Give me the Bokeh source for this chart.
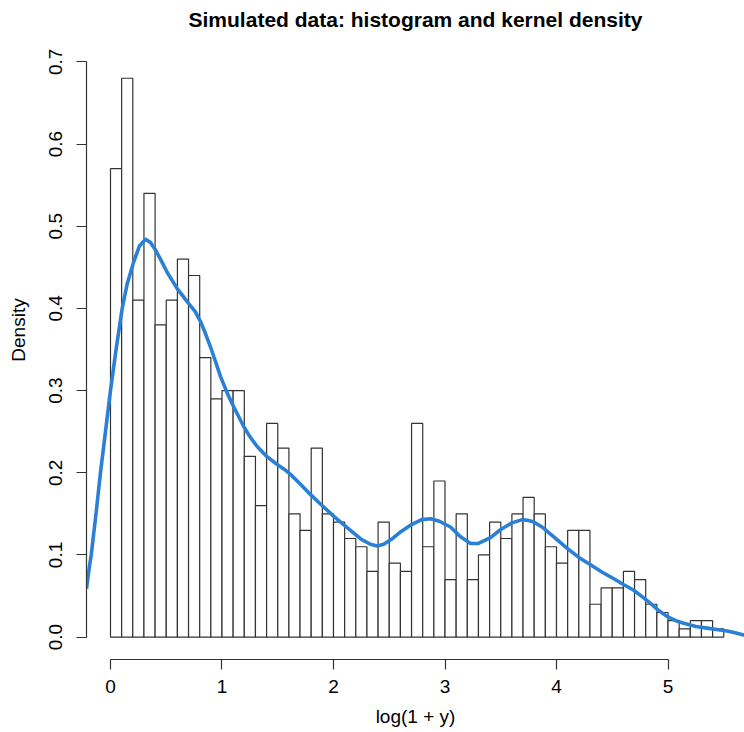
import numpy as np
from bokeh.plotting import figure
from bokeh.models import Range1d, FixedTicker, NumeralTickFormatter, ColumnDataSource, Label
from bokeh.embed import file_html
from bokeh.resources import INLINE

# ---- data ----
bin_start = 0.0
bin_width = 0.1
density = [0.57, 0.68, 0.41, 0.54, 0.38, 0.41, 0.46, 0.44, 0.34, 0.29,
           0.30, 0.30, 0.22, 0.16, 0.26, 0.23, 0.15, 0.13, 0.23, 0.15,
           0.14, 0.12, 0.11, 0.08, 0.14, 0.09, 0.08, 0.26, 0.11, 0.19,
           0.07, 0.15, 0.07, 0.10, 0.14, 0.12, 0.15, 0.17, 0.15, 0.11,
           0.09, 0.13, 0.13, 0.04, 0.06, 0.06, 0.08, 0.07, 0.04, 0.03,
           0.02, 0.01, 0.02, 0.02, 0.01]

kde_x = [-0.215, -0.19, -0.173, -0.13, -0.09, -0.045, 0.0, 0.05, 0.105, 0.15,
         0.209, 0.26, 0.314, 0.36, 0.404, 0.455, 0.508, 0.598, 0.70, 0.76,
         0.807, 0.85, 0.897, 0.94, 0.987, 1.05, 1.106, 1.196, 1.25, 1.315,
         1.40, 1.495, 1.56, 1.614, 1.704, 1.79, 1.883, 2.003, 2.08, 2.152,
         2.25, 2.33, 2.392, 2.45, 2.52, 2.601, 2.70, 2.79, 2.87, 2.95,
         3.049, 3.14, 3.229, 3.30, 3.408, 3.5, 3.60, 3.692, 3.75, 3.797,
         3.88, 3.976, 4.096, 4.2, 4.305, 4.41, 4.514, 4.60, 4.693, 4.77,
         4.843, 4.92, 4.993, 5.07, 5.142, 5.25, 5.351, 5.45, 5.531, 5.61,
         5.69]
kde_y = [0.059, 0.085, 0.10, 0.15, 0.20, 0.25, 0.30, 0.35, 0.40, 0.43,
         0.457, 0.476, 0.484, 0.480, 0.471, 0.458, 0.444, 0.424, 0.406, 0.396,
         0.384, 0.370, 0.353, 0.336, 0.317, 0.296, 0.280, 0.256, 0.244, 0.232,
         0.220, 0.210, 0.204, 0.198, 0.186, 0.174, 0.162, 0.147, 0.138, 0.130,
         0.119, 0.113, 0.111, 0.113, 0.119, 0.128, 0.137, 0.143, 0.144, 0.141,
         0.134, 0.122, 0.114, 0.114, 0.121, 0.131, 0.139, 0.143, 0.142, 0.140,
         0.133, 0.122, 0.108, 0.097, 0.088, 0.079, 0.071, 0.064, 0.057, 0.049,
         0.041, 0.032, 0.025, 0.020, 0.017, 0.013, 0.011, 0.009, 0.0075, 0.005,
         0.002]

x_ticks = [0, 1, 2, 3, 4, 5]
y_ticks = [0.0, 0.1, 0.2, 0.3, 0.4, 0.5, 0.6, 0.7]

title_text = "Simulated data: histogram and kernel density"
x_label = "log(1 + y)"
y_label = "Density"

FONT = "Liberation Sans"

n = len(density)
lefts = [bin_start + i * bin_width for i in range(n)]
rights = [bin_start + (i + 1) * bin_width for i in range(n)]
bars = ColumnDataSource(dict(left=lefts, right=rights, top=density, bottom=[0] * n))

W, H = 744, 732
BL, BR, BT, BB = 86, 0, 0, 73
frame_w = W - BL - BR
frame_h = H - BT - BB
y_lo = -0.0272
y_px_per_unit = 821.9
p = figure(width=W, height=H,
           x_range=Range1d(-0.2152, 5.686),
           y_range=Range1d(y_lo, y_lo + frame_h / y_px_per_unit),
           output_backend="svg", toolbar_location=None,
           min_border_left=BL, min_border_right=BR, min_border_top=BT, min_border_bottom=BB)
p.outline_line_color = None
p.xgrid.visible = False
p.ygrid.visible = False
p.background_fill_color = "white"
p.border_fill_color = "white"

p.quad(left="left", right="right", bottom="bottom", top="top", source=bars,
       fill_color="white", line_color="#333333", line_width=1.2)
p.line(kde_x, kde_y, line_color="#2A80D5", line_width=3.6, line_join="round")

# title, inside the (extended) frame, screen units from the frame's bottom-left
title = Label(x=frame_w / 2, y=frame_h - 19, x_units="screen", y_units="screen",
              text=title_text, text_align="center", text_baseline="alphabetic",
              text_font=FONT, text_font_size="21px", text_font_style="bold",
              text_color="black")
p.add_layout(title)

for ax in (p.xaxis[0], p.yaxis[0]):
    ax.major_tick_out = 10
    ax.major_tick_in = 0
    ax.minor_tick_line_color = None
    ax.axis_line_color = "#333333"
    ax.major_tick_line_color = "#333333"
    ax.axis_line_width = 1.2
    ax.major_tick_line_width = 1.2
    ax.major_label_text_font = FONT
    ax.major_label_text_font_size = "19px"
    ax.major_label_text_color = "black"
    ax.axis_label_text_font = FONT
    ax.axis_label_text_font_size = "19px"
    ax.axis_label_text_font_style = "normal"
    ax.axis_label_text_color = "black"

xa = p.xaxis[0]
xa.ticker = FixedTicker(ticks=x_ticks)
xa.bounds = (min(x_ticks), max(x_ticks))
xa.axis_label = x_label
xa.major_label_standoff = 10
xa.axis_label_standoff = 10

ya = p.yaxis[0]
ya.ticker = FixedTicker(ticks=y_ticks)
ya.bounds = (min(y_ticks), max(y_ticks))
ya.formatter = NumeralTickFormatter(format="0.0")
ya.major_label_orientation = "vertical"
ya.axis_label = y_label
ya.major_label_standoff = 14
ya.axis_label_standoff = 18

open("out.html", "w").write(file_html(p, INLINE))
